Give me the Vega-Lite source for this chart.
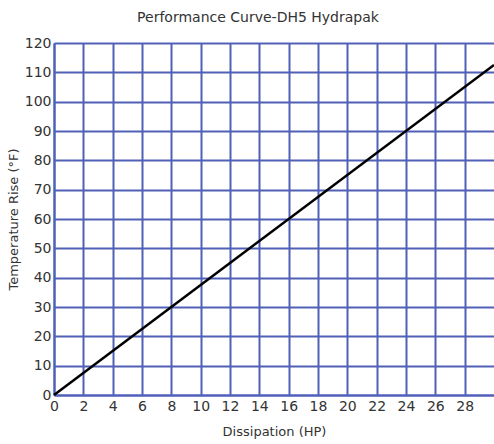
{
  "$schema": "https://vega.github.io/schema/vega-lite/v6.json",
  "width": 440,
  "height": 352,
  "autosize": {"type": "none"},
  "padding": {"left": 54, "top": 43, "right": 0, "bottom": 49},
  "background": "white",
  "title": {
    "text": "Performance Curve-DH5 Hydrapak",
    "font": "DejaVu Sans",
    "fontSize": 14,
    "fontWeight": "normal",
    "color": "#333333",
    "anchor": "middle",
    "dx": -16,
    "offset": 11
  },
  "data": {
    "values": [
      {"hp": 0, "rise": 0},
      {"hp": 30, "rise": 112.5}
    ]
  },
  "config": {
    "view": {"stroke": null},
    "axis": {
      "labelFont": "DejaVu Sans",
      "titleFont": "DejaVu Sans",
      "labelFontSize": 14,
      "titleFontSize": 13,
      "titleFontWeight": "normal",
      "labelColor": "#333333",
      "titleColor": "#333333",
      "gridColor": "#5060b8",
      "gridWidth": 2,
      "gridOpacity": 1,
      "domainColor": "#5060b8",
      "domainWidth": 2,
      "ticks": false
    }
  },
  "mark": {"type": "line", "color": "black", "strokeWidth": 2.5},
  "encoding": {
    "x": {
      "field": "hp",
      "type": "quantitative",
      "scale": {"domain": [0, 30], "nice": false},
      "axis": {
        "title": "Dissipation (HP)",
        "values": [0, 2, 4, 6, 8, 10, 12, 14, 16, 18, 20, 22, 24, 26, 28],
        "labelPadding": 4,
        "titlePadding": 12,
        "labelFlush": false
      }
    },
    "y": {
      "field": "rise",
      "type": "quantitative",
      "scale": {"domain": [0, 120], "nice": false},
      "axis": {
        "title": "Temperature Rise (°F)",
        "values": [0, 10, 20, 30, 40, 50, 60, 70, 80, 90, 100, 110, 120],
        "labelPadding": 3,
        "titlePadding": 4,
        "labelFlush": false
      }
    }
  }
}
